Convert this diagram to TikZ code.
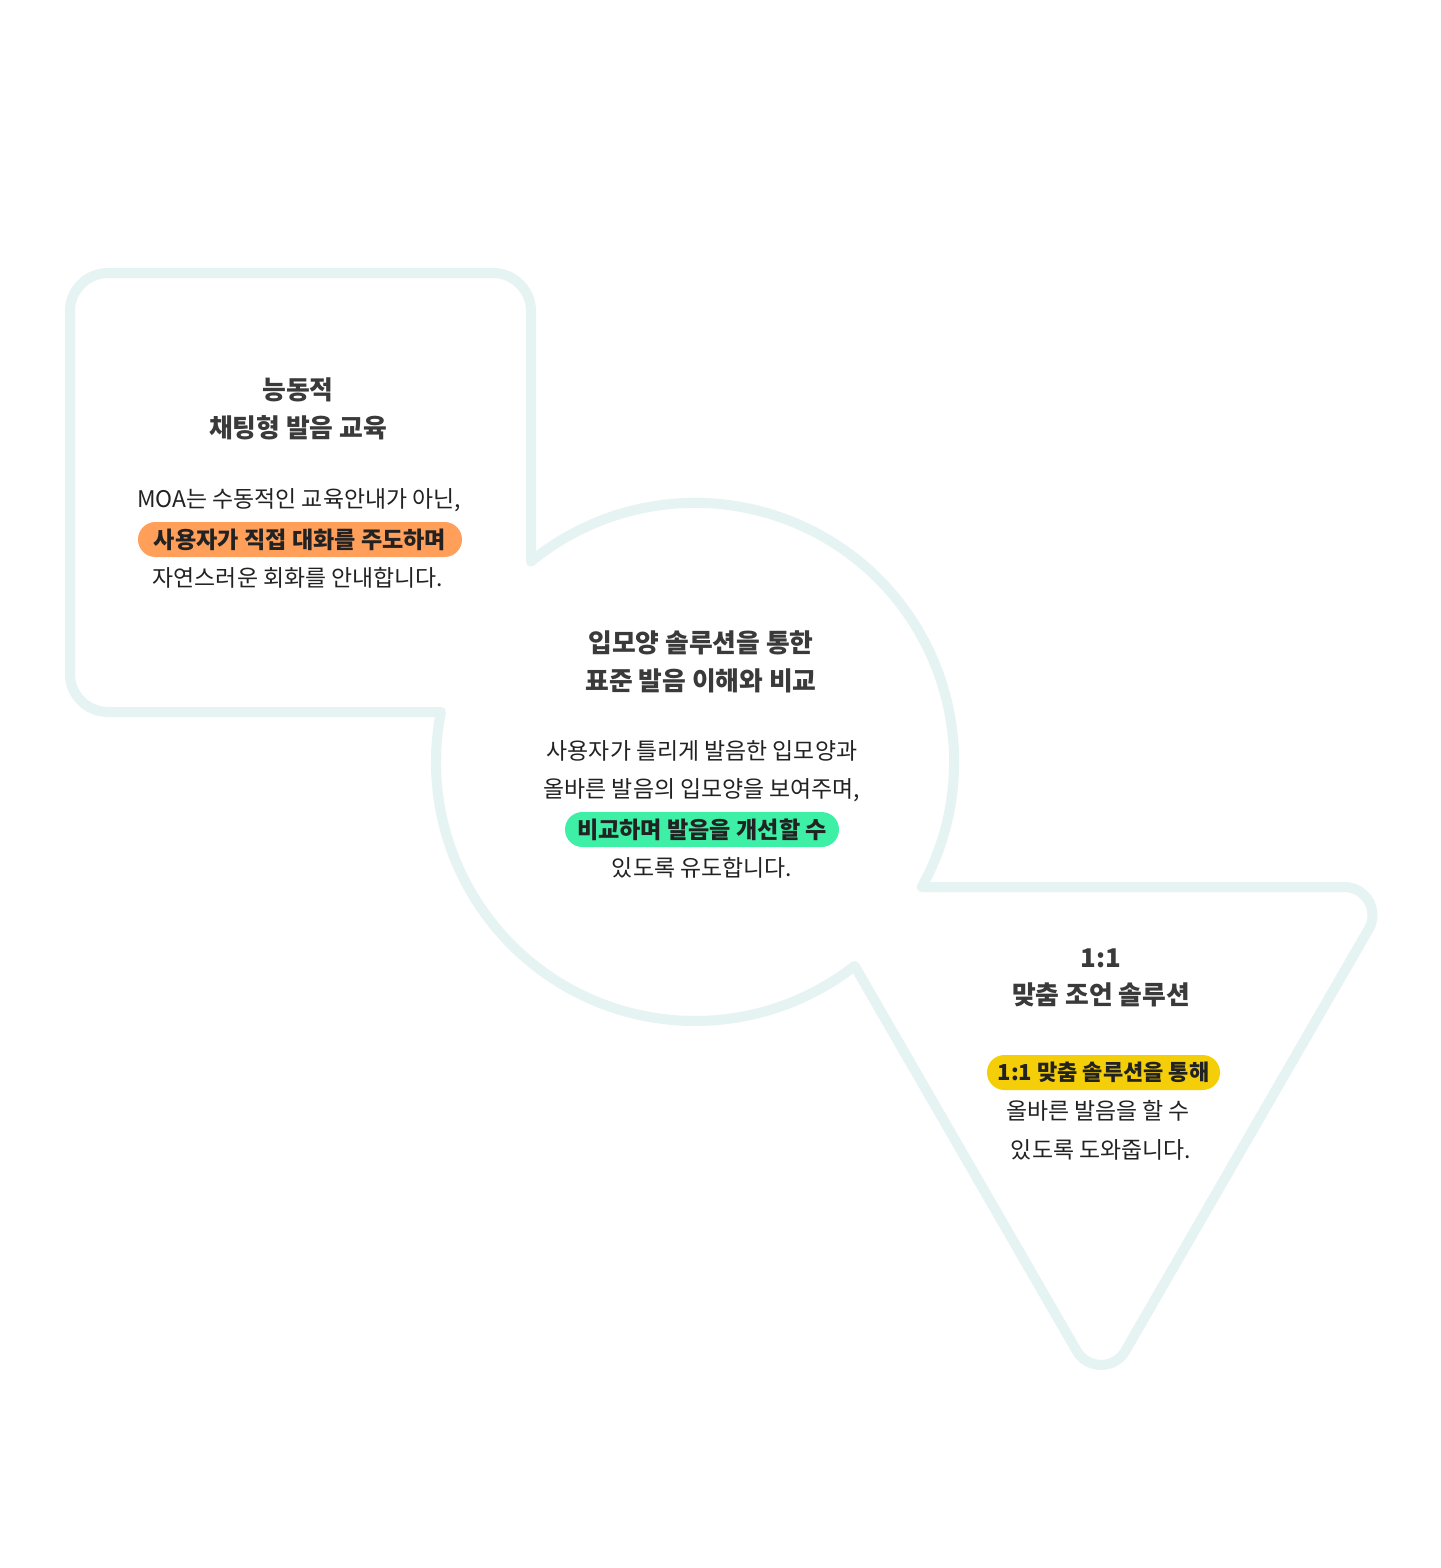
\documentclass[tikz,border=0pt]{standalone}
\usepackage{fontspec}
\setmainfont{Noto Sans CJK KR}
\definecolor{outlinec}{HTML}{E5F3F2}
\definecolor{txt}{HTML}{222222}
\definecolor{ttl}{HTML}{3A3A3A}
\definecolor{porange}{HTML}{FF9F5A}
\definecolor{pgreen}{HTML}{3DF0A6}
\definecolor{pyellow}{HTML}{F5CE0A}
\begin{document}
\begin{tikzpicture}[x=0.5pt,y=0.5pt,
  body/.style={text=txt, font=\fontsize{11.45pt}{13pt}\selectfont, inner sep=0pt},
  ttlstyle/.style={text=ttl, font=\fontsize{12.9pt}{15pt}\selectfont\bfseries, inner sep=0pt},
  pill/.style={rounded corners=8.7pt, minimum height=17.5pt, inner sep=0pt, text=txt, font=\fontsize{11.55pt}{13pt}\selectfont\bfseries},
  ]
\fill[white] (0,0) rectangle (1440,-1568);
\useasboundingbox (0,0) rectangle (1440,-1568);

\draw[outlinec, line width=5pt, line join=round]
  (531,-561.6) -- (531,-311) arc (0:90:38) -- (108,-273) arc (90:180:38)
  -- (70,-674) arc (180:270:38) -- (440.9,-712) arc (168.87:308.04:259)
  -- (1076.75,-1351) arc (210:330:28) -- (1368.75,-929) arc (-30:90:28)
  -- (921.8,-887) arc (331.1:489.3:259) -- cycle;

\node[ttlstyle] (t1a) at (298,-390) {능동적};
\node[ttlstyle] (t1b) at (298,-428) {채팅형 발음 교육};
\node[body] (b1a) at (299,-500) {MOA는 수동적인 교육안내가 아닌,};
\node[pill, fill=porange, minimum width=162pt] (p1) at (300,-539.5) {사용자가 직접 대화를 주도하며};
\node[body] (b1c) at (298,-578) {자연스러운 회화를 안내합니다.};

\node[ttlstyle] (t2a) at (701,-643) {입모양 솔루션을 통한};
\node[ttlstyle] (t2b) at (701,-681) {표준 발음 이해와 비교};
\node[body] (b2a) at (702,-751) {사용자가 틀리게 발음한 입모양과};
\node[body] (b2b) at (702,-790) {올바른 발음의 입모양을 보여주며,};
\node[pill, fill=pgreen, minimum width=137pt] (p2) at (702,-829.5) {비교하며 발음을 개선할 수};
\node[body] (b2d) at (702,-868) {있도록 유도합니다.};

\node[ttlstyle] (t3a) at (1101,-958) {1:1};
\node[ttlstyle] (t3b) at (1101,-995) {맞춤 조언 솔루션};
\node[pill, fill=pyellow, minimum width=116.5pt, font=\fontsize{11pt}{13pt}\selectfont\bfseries] (p3) at (1103.5,-1072.5) {1:1 맞춤 솔루션을 통해};
\node[body] (b3b) at (1098,-1111) {올바른 발음을 할 수};
\node[body] (b3c) at (1101,-1150) {있도록 도와줍니다.};
\end{tikzpicture}
\end{document}
